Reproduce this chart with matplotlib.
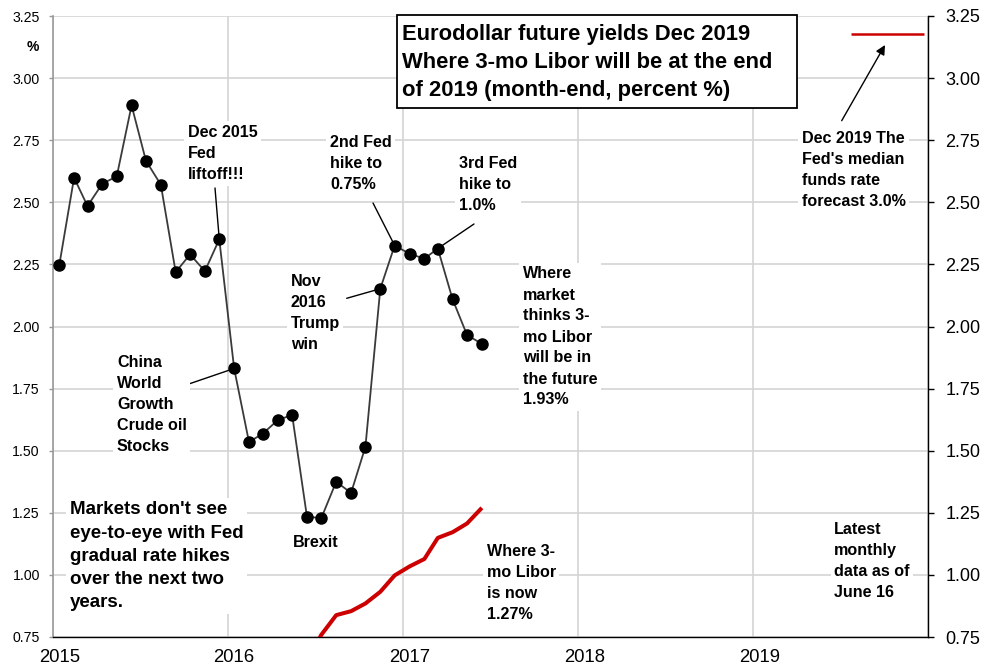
import matplotlib
matplotlib.use('Agg')
import matplotlib.pyplot as plt
import matplotlib.dates as mdates
from matplotlib.ticker import FixedLocator, FuncFormatter, NullFormatter
from matplotlib.patches import Rectangle
import numpy as np
import pandas as pd

plt.rcParams['font.family'] = ['Liberation Sans', 'DejaVu Sans']

W, H = 997, 665

# ---------------- data ----------------
months = [pd.Timestamp(2015 + i // 12, i % 12 + 1, 14) for i in range(30)]
eurodollar_dec2019 = [2.246, 2.599, 2.485, 2.575, 2.604, 2.890, 2.667, 2.571, 2.219, 2.290,
                      2.223, 2.351, 1.831, 1.535, 1.569, 1.623, 1.644, 1.234, 1.229, 1.375,
                      1.330, 1.516, 2.152, 2.326, 2.293, 2.273, 2.314, 2.109, 1.966, 1.930]
libor_3mo = [0.253, 0.262, 0.271, 0.278, 0.284, 0.283, 0.307, 0.332, 0.325, 0.334,
             0.415, 0.613, 0.613, 0.634, 0.629, 0.637, 0.686, 0.654, 0.759, 0.838,
             0.854, 0.885, 0.932, 0.998, 1.034, 1.064, 1.149, 1.172, 1.207, 1.270]
fed_dates = [pd.Timestamp('2019-07-25'), pd.Timestamp('2019-12-24')]
fed_median = [3.178, 3.178]
year_labels = [2015, 2016, 2017, 2018, 2019]
y_ticks = [0.75, 1.00, 1.25, 1.50, 1.75, 2.00, 2.25, 2.50, 2.75, 3.00, 3.25]

# ---------------- figure ----------------
fig = plt.figure(figsize=(W / 100, H / 100), dpi=100)
ax = fig.add_axes([53 / W, 28 / H, 875 / W, 621 / H])

def fx(px):
    return px / W

def fy(py):
    return 1 - py / H

grid_c = '#d4d4d4'
ax.set_xlim(pd.Timestamp('2015-01-01'), pd.Timestamp('2020-01-01'))
ax.set_ylim(0.75, 3.25)

ax.plot(months, libor_3mo, color='#cc0000', lw=2.9, solid_capstyle='butt', zorder=3)
ax.plot(months, eurodollar_dec2019, color='#3a3a3a', lw=1.3, marker='o', markersize=8,
        markerfacecolor='black', markeredgecolor='black', zorder=4)
ax.plot(fed_dates, fed_median, color='#cc0000', lw=1.8, solid_capstyle='butt', zorder=3)

# x axis: gridlines at year starts, labels at mid-January
ax.xaxis.set_major_locator(mdates.YearLocator())
ax.xaxis.set_major_formatter(NullFormatter())
ax.xaxis.set_minor_locator(FixedLocator([mdates.date2num(pd.Timestamp(y, 1, 14)) for y in year_labels]))
ax.xaxis.set_minor_formatter(FuncFormatter(lambda v, p: mdates.num2date(v).strftime('%Y')))
ax.tick_params(axis='x', which='both', length=0, labelsize=13.3, pad=8.5, colors='black')
ax.grid(axis='x', which='major', color=grid_c, lw=1.2)
ax.grid(axis='y', which='major', color=grid_c, lw=1.2)
ax.set_axisbelow(True)

ax.set_yticks(y_ticks)
ax.yaxis.set_major_formatter(FuncFormatter(lambda v, p: f'{v:.2f}'))
ax.tick_params(axis='y', length=3, width=1, color='#999999', labelsize=10.2, pad=6.5)

ax.spines['top'].set_visible(False)
ax.spines['left'].set_color('#999999')
ax.spines['left'].set_linewidth(1.2)
ax.spines['bottom'].set_color('black')
ax.spines['bottom'].set_linewidth(1.0)
ax.spines['right'].set_visible(False)

ax2 = ax.twinx()
ax2.set_ylim(0.75, 3.25)
ax2.set_yticks(y_ticks)
ax2.yaxis.set_major_formatter(FuncFormatter(lambda v, p: f'{v:.2f}'))
ax2.tick_params(axis='y', length=4, width=1, color='black', labelsize=13, pad=8.5)
for s in ['top', 'left', 'bottom']:
    ax2.spines[s].set_visible(False)
ax2.spines['right'].set_color('black')
ax2.spines['right'].set_linewidth(1.0)

# ---------------- leader lines ----------------
def leader(idx, px, py):
    ax2.annotate('', xy=(mdates.date2num(months[idx]), eurodollar_dec2019[idx]), xycoords=ax.transData,
                 xytext=(px, H - py), textcoords='figure pixels',
                 arrowprops=dict(arrowstyle='-', lw=1.0, color='black', shrinkA=0, shrinkB=0))

leader(11, 215, 188)
leader(12, 180, 387)
leader(22, 346.7, 298.3)
leader(23, 373, 203)
leader(26, 474, 224)

ax2.annotate('', xy=(885, H - 45), xycoords='figure pixels',
             xytext=(841.7, H - 120.7), textcoords='figure pixels',
             arrowprops=dict(arrowstyle='-|>', lw=1.0, color='black', shrinkA=0, shrinkB=0,
                             mutation_scale=14))

# ---------------- texts ----------------
box = dict(facecolor='white', edgecolor='none', pad=2.5)

def note(px, py, s, size=11.6, ls=1.5):
    fig.text(fx(px), fy(py), s, ha='left', va='center', fontsize=size, fontweight='bold',
             linespacing=ls, bbox=box, color='black')

note(188, 153.5, 'Dec 2015\nFed\nliftoff!!!')
note(330, 163.7, '2nd Fed\nhike to\n0.75%')
note(459, 184.7, '3rd Fed\nhike to\n1.0%')
note(290.7, 313.3, 'Nov\n2016\nTrump\nwin')
note(523, 337, 'Where\nmarket\nthinks 3-\nmo Libor\nwill be in\nthe future\n1.93%')
note(117, 404.7, 'China\nWorld\nGrowth\nCrude oil\nStocks')
note(70, 556.2, "Markets don't see\neye-to-eye with Fed\ngradual rate hikes\nover the next two\nyears.",
     size=13.5, ls=1.47)
note(293, 542.3, 'Brexit')
note(486.7, 582.8, 'Where 3-\nmo Libor\nis now\n1.27%')
note(801.7, 170, "Dec 2019 The\nFed's median\nfunds rate\nforecast 3.0%")
note(834.3, 561.3, 'Latest\nmonthly\ndata as of\nJune 16')

fig.text(fx(33), fy(47), '%', ha='center', va='center', fontsize=10, fontweight='bold')

# title box
fig.patches.append(Rectangle((fx(397), fy(108)), (797 - 397) / W, (108 - 15) / H,
                             transform=fig.transFigure, facecolor='white', edgecolor='black',
                             lw=1.3, zorder=2))
fig.text(fx(401.7), fy(62.2),
         'Eurodollar future yields Dec 2019\nWhere 3-mo Libor will be at the end\nof 2019 (month-end, percent %)',
         ha='left', va='center', fontsize=15.8, fontweight='bold', linespacing=1.44, zorder=3)

fig.savefig('out.png', dpi=100)
